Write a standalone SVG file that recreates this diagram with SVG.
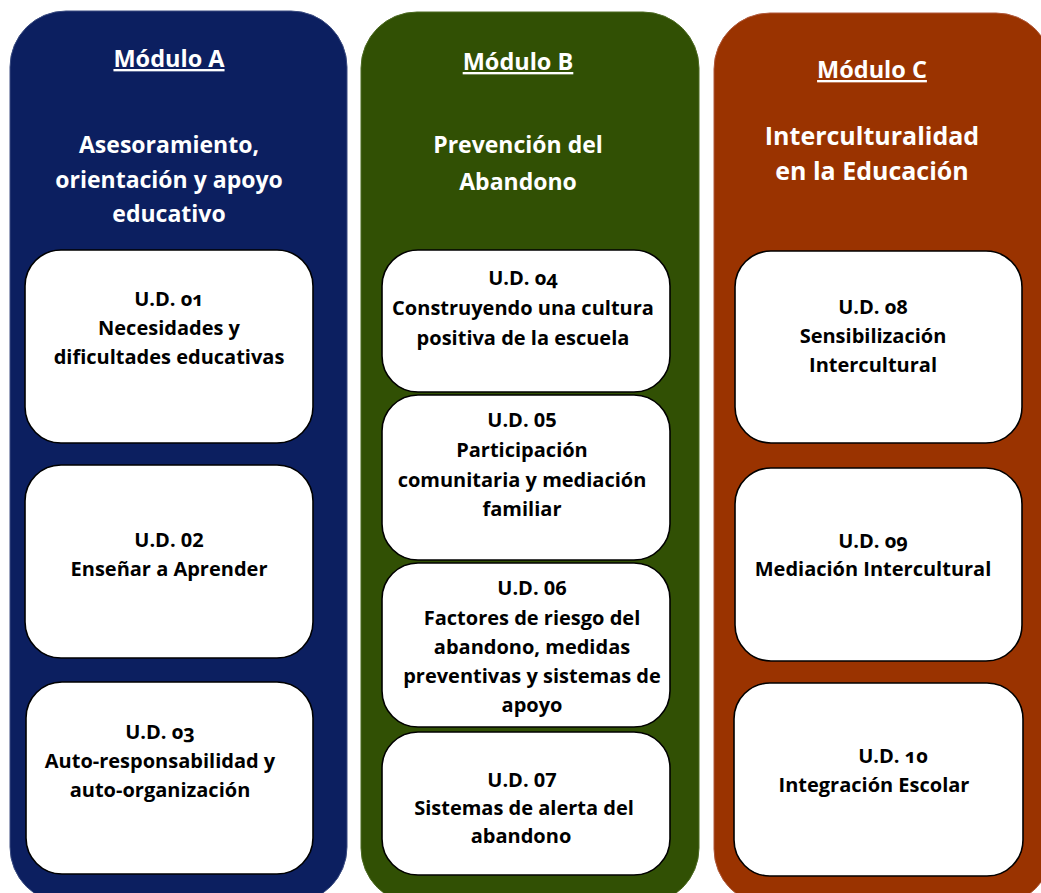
<svg xmlns="http://www.w3.org/2000/svg" width="1041" height="893" viewBox="0 0 1041 893">
<style>
.panel{stroke-width:1}
.box{fill:#ffffff;stroke:#000000;stroke-width:1.6}
.h{font-family:"Open Sans",Lato,"Liberation Sans",sans-serif;font-weight:bold;fill:#ffffff;text-anchor:middle}
.m{font-size:23.5px;text-decoration:underline}
.t{font-family:"Open Sans",Lato,"Liberation Sans",sans-serif;font-weight:bold;fill:#000000;text-anchor:middle;font-size:20px}
.o{font-variant-numeric:oldstyle-nums}
</style>
<rect width="1041" height="893" fill="#ffffff"/>
<g id="moduleA">
<rect class="panel" x="10" y="11" width="337" height="892" rx="56" fill="#0c1f60" stroke="#3a4b80"/>
<text class="h m" x="169" y="67">Módulo A</text>
<text class="h" x="169" y="153" font-size="23">Asesoramiento,</text>
<text class="h" x="169" y="188" font-size="23">orientación y apoyo</text>
<text class="h" x="169" y="222" font-size="23">educativo</text>
</g>
<g id="moduleB">
<rect class="panel" x="361" y="12" width="338" height="892" rx="56" fill="#315004" stroke="#4c6a22"/>
<text class="h m" x="518" y="70">Módulo B</text>
<text class="h" x="518" y="153" font-size="23">Prevención del</text>
<text class="h" x="518" y="190" font-size="23">Abandono</text>
</g>
<g id="moduleC">
<rect class="panel" x="714" y="13" width="338" height="892" rx="56" fill="#9a3300" stroke="#b0583a"/>
<text class="h m" x="872" y="78">Módulo C</text>
<text class="h" x="872" y="145" font-size="25">Interculturalidad</text>
<text class="h" x="872" y="180" font-size="25">en la Educación</text>
</g>
<g id="ud01">
<rect class="box" x="25" y="250" width="288" height="193" rx="36"/>
<text class="t" x="169" y="306"><tspan class="o">U.D. 01</tspan><tspan x="169" dy="29">Necesidades y</tspan><tspan x="169" dy="29">dificultades educativas</tspan></text>
</g>
<g id="ud02">
<rect class="box" x="25" y="465" width="288" height="193" rx="36"/>
<text class="t" x="169" y="547">U.D. 02<tspan x="169" dy="29">Enseñar a Aprender</tspan></text>
</g>
<g id="ud03">
<rect class="box" x="26" y="682" width="287" height="192" rx="36"/>
<text class="t" x="160" y="739"><tspan class="o">U.D. 03</tspan><tspan x="160" dy="29">Auto-responsabilidad y</tspan><tspan x="160" dy="29">auto-organización</tspan></text>
</g>
<g id="ud04">
<rect class="box" x="382" y="250" width="288" height="142" rx="36"/>
<text class="t" x="523" y="285"><tspan class="o">U.D. 04</tspan><tspan x="523" dy="30">Construyendo una cultura</tspan><tspan x="523" dy="30">positiva de la escuela</tspan></text>
</g>
<g id="ud05">
<rect class="box" x="382" y="395" width="288" height="165" rx="36"/>
<text class="t" x="522" y="427">U.D. 05<tspan x="522" dy="30">Participación</tspan><tspan x="522" dy="30">comunitaria y mediación</tspan><tspan x="522" dy="29">familiar</tspan></text>
</g>
<g id="ud06">
<rect class="box" x="382" y="563" width="288" height="164" rx="36"/>
<text class="t" x="532" y="595">U.D. 06<tspan x="532" dy="30">Factores de riesgo del</tspan><tspan x="532" dy="29">abandono, medidas</tspan><tspan x="532" dy="29">preventivas y sistemas de</tspan><tspan x="532" dy="29">apoyo</tspan></text>
</g>
<g id="ud07">
<rect class="box" x="382" y="732" width="288" height="143" rx="36"/>
<text class="t" x="522" y="787">U.D. 07<tspan x="524" dy="28">Sistemas de alerta del</tspan><tspan x="521" dy="28">abandono</tspan></text>
</g>
<g id="ud08">
<rect class="box" x="735" y="251" width="287" height="192" rx="36"/>
<text class="t" x="873" y="314"><tspan class="o">U.D. 08</tspan><tspan x="873" dy="29">Sensibilización</tspan><tspan x="873" dy="29">Intercultural</tspan></text>
</g>
<g id="ud09">
<rect class="box" x="735" y="468" width="287" height="193" rx="36"/>
<text class="t" x="873" y="548"><tspan class="o">U.D. 09</tspan><tspan x="873" dy="28">Mediación Intercultural</tspan></text>
</g>
<g id="ud10">
<rect class="box" x="734" y="683" width="289" height="193" rx="36"/>
<text class="t" x="893" y="763"><tspan class="o">U.D. 10</tspan><tspan x="874" dy="29">Integración Escolar</tspan></text>
</g>
<g id="connectors"/>
</svg>
